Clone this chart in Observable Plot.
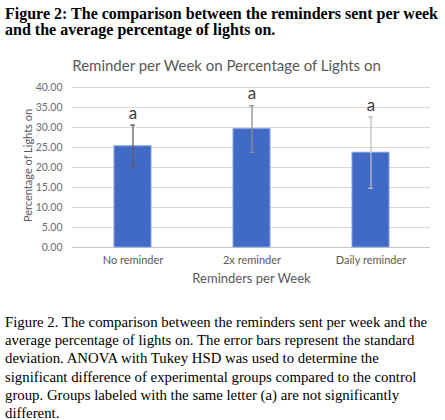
<!DOCTYPE html>
<html>
<head>
<meta charset="utf-8">
<script src="https://cdn.jsdelivr.net/npm/d3@7"></script>
<script src="https://cdn.jsdelivr.net/npm/@observablehq/plot@0.6"></script>
<style>
  body { margin: 0; background: #fff; width: 445px; height: 420px; position: relative; overflow: hidden; }
  #head { position: absolute; left: 5px; top: 6px; width: 440px; font-family: "Liberation Serif", "Times New Roman", serif; font-weight: bold; font-size: 16px; line-height: 16px; color: #000; }
  #chart { position: absolute; left: 0; top: 48px; }
  #caption { position: absolute; left: 5px; top: 313px; width: 428px; font-family: "Liberation Serif", "Times New Roman", serif; font-size: 14.8px; line-height: 18.2px; color: #000; }
</style>
</head>
<body>
<div id="head">Figure 2: The comparison between the reminders sent per week and the average percentage of lights on.</div>
<div id="chart"></div>
<div id="caption">Figure 2. The comparison between the reminders sent per week and the average percentage of lights on. The error bars represent the standard deviation. ANOVA with Tukey HSD was used to determine the significant difference of experimental groups compared to the control group. Groups labeled with the same letter (a) are not significantly different.</div>
<script>
// values
const groups = ["No reminder", "2x reminder", "Daily reminder"]
const means = [25.3, 29.6, 23.7]
const sds = [5.3, 5.8, 8.9]
const letters = ["a", "a", "a"]
const errColors = ["#5f5f5f", "#8c8c8c", "#bdbdbd"]
const yTicks = [0, 5, 10, 15, 20, 25, 30, 35, 40]

const data = groups.map((g, i) => ({
  group: g, mean: means[i], lo: means[i] - sds[i], hi: means[i] + sds[i],
  letter: letters[i], err: errColors[i]
}))

const sans = "Lato, 'Open Sans', sans-serif"
const grey = "#595959"

let chart = Plot.plot({
  width: 445,
  height: 250,
  marginLeft: 72,
  marginRight: 15,
  marginTop: 39,
  marginBottom: 51,
  x: { domain: groups, paddingInner: 0.69, paddingOuter: 0.345, label: null },
  y: { domain: [0, 40], ticks: yTicks, label: null },
  marks: [
    Plot.ruleY(yTicks.filter(d => d > 0), { stroke: "#d9d9d9", strokeWidth: 1 }),
    Plot.ruleY([0], { stroke: "#c8c8c8", strokeWidth: 1 }),
    Plot.axisY({ ticks: yTicks, tickFormat: d3.format(".2f"), tickSize: 0, tickPadding: 10,
      fontSize: 10.5, fill: "#6b6b6b", label: null }),
    Plot.axisX({ tickSize: 0, tickPadding: 9, fontSize: 11, fill: grey, label: null }),
    Plot.barY(data, { x: "group", y: "mean", fill: "#4169c6", stroke: "#87a3dc", strokeWidth: 1 }),
    Plot.ruleX(data, { x: "group", y1: "lo", y2: "hi", stroke: "err", strokeWidth: 1.3 }),
    Plot.tickY(data, { x: "group", y: "hi", stroke: "err", strokeWidth: 1.3, insetLeft: 16, insetRight: 16 }),
    Plot.tickY(data, { x: "group", y: "lo", stroke: "err", strokeWidth: 1.3, insetLeft: 16, insetRight: 16 }),
    Plot.text(data, { x: "group", y: "hi", text: "letter", dy: -12, fontSize: 17, fill: "#404040" }),
    Plot.text(["Reminder per Week on Percentage of Lights on"], { frameAnchor: "top", lineAnchor: "middle", textAnchor: "middle", dx: -25, dy: -21, fontSize: 15, fill: grey }),
    Plot.text(["Reminders per Week"], { frameAnchor: "bottom", lineAnchor: "middle", textAnchor: "middle", dy: 31, fontSize: 13, fill: grey }),
    Plot.text(["Percentage of Lights on"], { frameAnchor: "left", lineAnchor: "middle", textAnchor: "middle", dx: -44, dy: -2, rotate: -90, fontSize: 11, fill: grey })
  ],
  style: {
    fontFamily: sans,
    background: "#fff",
    overflow: "visible"
  }
})
d3.select('#chart').append(() => chart)
</script>
</body>
</html>
